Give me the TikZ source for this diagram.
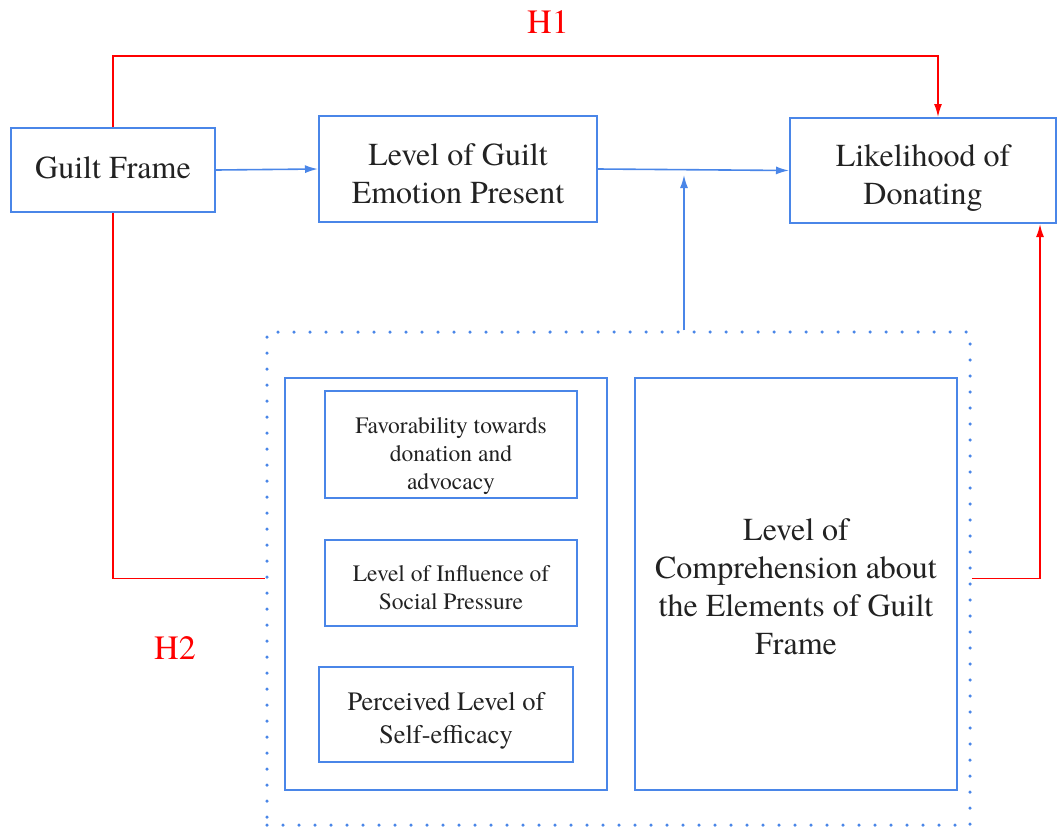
\documentclass[tikz,border=0pt]{standalone}
\usepackage{fontspec}
\setmainfont{texgyretermes}[Extension=.otf,UprightFont=*-regular,BoldFont=*-bold]
\usetikzlibrary{arrows.meta}
\definecolor{boxColor}{RGB}{74,134,232}
\definecolor{hypColor}{RGB}{255,0,0}
\definecolor{textColor}{RGB}{34,34,34}
\tikzset{
  box/.style={draw=boxColor,line width=2pt,inner sep=0pt},
  boxtext/.style={align=center,text=textColor,inner sep=0pt},
  bigtext/.style={boxtext,font=\fontsize{32}{38}\selectfont},
  smalltext/.style={boxtext,font=\fontsize{23.5}{28}\selectfont},
  flow/.style={draw=boxColor,line width=1.6pt,-{Latex[length=13pt,width=8pt]}},
  hyp/.style={draw=hypColor,line width=1.6pt,-{Latex[length=13pt,width=8pt]}},
  hyplabel/.style={text=hypColor,font=\fontsize{34}{40}\selectfont,inner sep=0pt}
}
\begin{document}
\begin{tikzpicture}[x=1pt,y=-1pt]
\path[use as bounding box,fill=white] (0,0) rectangle (1057,828);

% top row
\node[box,minimum width=204pt,minimum height=84pt,
  label={[bigtext,yshift=2pt]center:Guilt Frame}] (guilt) at (113,170) {};
\node[box,minimum width=278pt,minimum height=106pt,
  label={[bigtext,yshift=-5pt]center:Level of Guilt\\Emotion Present}] (emotion) at (458,169) {};
\node[box,minimum width=266pt,minimum height=105pt,
  label={[bigtext,yshift=-8pt]center:Likelihood of\\Donating}] (likely) at (923,170.5) {};

% moderators
\node[draw=boxColor,line width=3.5pt,line cap=round,dash pattern=on 0pt off 16pt,
  minimum width=703pt,minimum height=493pt,inner sep=0pt] (frame) at (618.5,578.5) {};
\node[box,minimum width=322pt,minimum height=412pt] (leftgroup) at (446,584) {};
\node[box,minimum width=322pt,minimum height=412pt,
  label={[bigtext,yshift=-3pt]center:Level of\\Comprehension about\\the Elements of Guilt\\Frame}] (comprehension) at (796,584) {};
\node[box,minimum width=252pt,minimum height=107pt,
  label={[smalltext,yshift=-12pt]center:Favorability towards\\donation and\\advocacy}] (favor) at (451,444.5) {};
\node[box,minimum width=252pt,minimum height=86pt,
  label={[smalltext,yshift=-5pt]center:Level of Influence of\\Social Pressure}] (pressure) at (451,583) {};
\node[box,minimum width=254pt,minimum height=95pt,
  label={[boxtext,font=\fontsize{26.5}{33}\selectfont,yshift=-6pt]center:Perceived Level of\\Self-efficacy}] (efficacy) at (446,714.5) {};

% connectors
\coordinate (join) at (684,175);
\coordinate (h1corner) at (938,56);
\coordinate (h3corner) at (1040,0);
\draw[flow] (guilt.east) -- (emotion.west);
\draw[flow] (emotion.east) -- (likely.west);
\draw[flow] (join |- frame.north) -- (join);
\draw[hyp] (guilt.north) |- (h1corner) -- (h1corner |- likely.north);
\draw[hyp,-] (guilt.south) |- (frame.west);
\draw[hyp] (frame.east) -| (h3corner |- likely.south);

% hypothesis labels
\node[hyplabel] (h1) at (548,22) {H1};
\node[hyplabel] (h2) at (175,648) {H2};
\end{tikzpicture}
\end{document}
